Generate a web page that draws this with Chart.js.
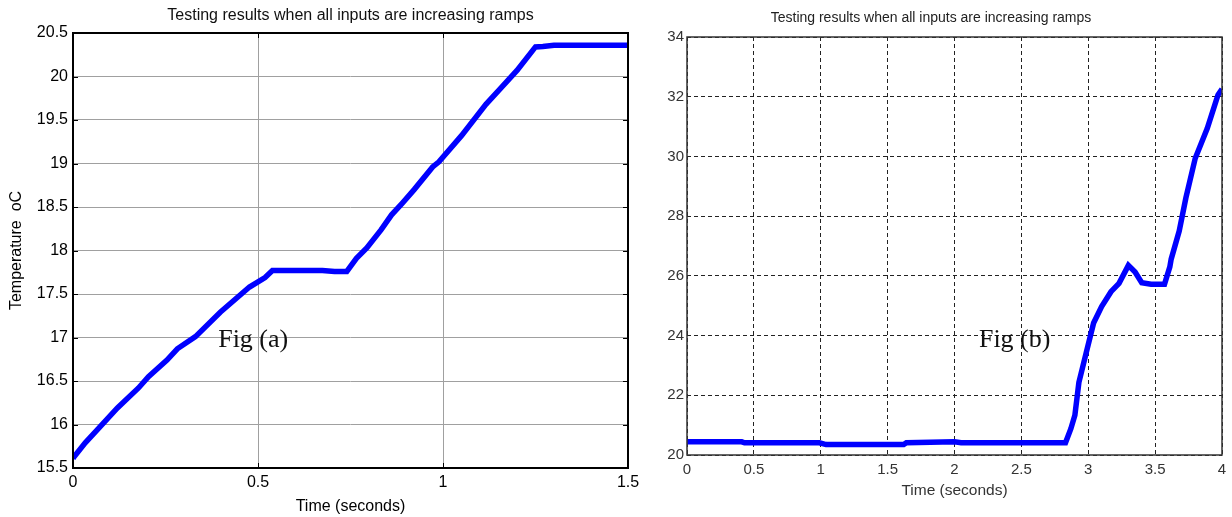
<!DOCTYPE html>
<html>
<head>
<meta charset="utf-8">
<script src="https://cdn.jsdelivr.net/npm/chart.js@4.4.1/dist/chart.umd.min.js"></script>
<style>
  html, body { margin: 0; padding: 0; background: #fff; }
  #wrap { position: relative; width: 1232px; height: 517px; overflow: hidden; }
  #boxA { position: absolute; left: 0; top: 0; width: 640px; height: 517px; }
  #boxB { position: absolute; left: 640px; top: 0; width: 592px; height: 517px; }
</style>
</head>
<body>
<div id="wrap">
  <div id="boxA"><canvas id="chartA" width="640" height="517"></canvas></div>
  <div id="boxB"><canvas id="chartB" width="592" height="517"></canvas></div>
</div>
<script>
// ---- Data ----
const titleText = "Testing results when all inputs are increasing ramps";

// Fig (a)
const timeA = [0, 0.003, 0.033, 0.066, 0.12, 0.177, 0.204, 0.254, 0.282, 0.331, 0.398, 0.477, 0.519, 0.539,
               0.674, 0.707, 0.74, 0.766, 0.794, 0.833, 0.861, 0.889, 0.922, 0.972, 0.989, 1.05, 1.116,
               1.155, 1.2, 1.25, 1.27, 1.30, 1.5];
const tempA = [15.61, 15.63, 15.79, 15.94, 16.19, 16.42, 16.55, 16.74, 16.87, 17.01, 17.29, 17.58, 17.69, 17.77,
               17.77, 17.76, 17.76, 17.91, 18.03, 18.24, 18.41, 18.54, 18.70, 18.96, 19.02, 19.32, 19.68,
               19.86, 20.07, 20.34, 20.345, 20.36, 20.36];
const xTicksA = [0, 0.5, 1, 1.5];
const yRangeA = [15.5, 20.5];
const yStepA = 0.5;

// Fig (b)
const timeB = [0, 0.41, 0.43, 0.99, 1.04, 1.62, 1.64, 2.0, 2.05, 2.83, 2.87, 2.9, 2.93, 2.985, 3.04, 3.1,
               3.17, 3.23, 3.3, 3.35, 3.4, 3.47, 3.57, 3.61, 3.62, 3.68, 3.73, 3.8, 3.89, 3.97, 4.0];
const tempB = [20.44, 20.44, 20.41, 20.41, 20.35, 20.35, 20.41, 20.44, 20.41, 20.41, 20.88, 21.33, 22.43, 23.43,
               24.42, 24.97, 25.47, 25.75, 26.35, 26.13, 25.77, 25.72, 25.72, 26.3, 26.56, 27.5, 28.61, 29.94,
               30.94, 32.06, 32.26];
const xRangeB = [0, 4];
const xStepB = 0.5;
const yRangeB = [20, 34];
const yStepB = 2;

const labelA = "Fig (a)";
const labelB = "Fig (b)";
const labelPosA = [0.487, 16.97];
const labelPosB = [2.45, 23.83];

// ---- helpers ----
function toPoints(xs, ys) { return xs.map((x, i) => ({ x: x, y: ys[i] })); }
function fmt(v) { return String(Number(Number(v).toFixed(3))); }
function noScalePad(scale) { scale.paddingLeft = 0; scale.paddingRight = 0; scale.paddingTop = 0; scale.paddingBottom = 0; }

function framePlugin(color, width) {
  return {
    id: 'frame',
    afterDatasetsDraw(chart) {
      const a = chart.chartArea, ctx = chart.ctx;
      ctx.save();
      ctx.strokeStyle = color;
      ctx.lineWidth = width;
      ctx.strokeRect(a.left, a.top, a.right - a.left, a.bottom - a.top);
      ctx.restore();
    }
  };
}

function figLabelPlugin(text, pos, font) {
  return {
    id: 'figlabel',
    afterDatasetsDraw(chart) {
      const ctx = chart.ctx;
      const px = chart.scales.x.getPixelForValue(pos[0]);
      const py = chart.scales.y.getPixelForValue(pos[1]);
      ctx.save();
      ctx.font = font;
      ctx.fillStyle = '#111';
      ctx.textAlign = 'center';
      ctx.textBaseline = 'middle';
      ctx.fillText(text, px, py);
      ctx.restore();
    }
  };
}

// inward tick marks (MATLAB style) for chart A
const innerTicksA = {
  id: 'innerTicks',
  afterDatasetsDraw(chart) {
    const a = chart.chartArea, ctx = chart.ctx;
    const xs = chart.scales.x, ys = chart.scales.y;
    ctx.save();
    ctx.strokeStyle = '#000';
    ctx.lineWidth = 1;
    xs.ticks.forEach(t => {
      const p = Math.round(xs.getPixelForValue(t.value)) + 0.5;
      ctx.beginPath(); ctx.moveTo(p, a.bottom); ctx.lineTo(p, a.bottom - 5); ctx.stroke();
      ctx.beginPath(); ctx.moveTo(p, a.top); ctx.lineTo(p, a.top + 5); ctx.stroke();
    });
    ys.ticks.forEach(t => {
      const p = Math.round(ys.getPixelForValue(t.value)) + 0.5;
      ctx.beginPath(); ctx.moveTo(a.left, p); ctx.lineTo(a.left + 5, p); ctx.stroke();
      ctx.beginPath(); ctx.moveTo(a.right, p); ctx.lineTo(a.right - 5, p); ctx.stroke();
    });
    ctx.restore();
  }
};

const SANS = 'Liberation Sans, Arial, sans-serif';

// ---- Chart A ----
new Chart(document.getElementById('chartA'), {
  type: 'line',
  data: {
    datasets: [{
      data: toPoints(timeA, tempA),
      borderColor: '#0000ff',
      borderWidth: 5.5,
      pointRadius: 0,
      tension: 0,
      fill: false
    }]
  },
  options: {
    responsive: false,
    animation: false,
    events: [],
    layout: { padding: { left: 0, right: 12, top: 0, bottom: 0 } },
    plugins: {
      legend: { display: false },
      tooltip: { enabled: false },
      title: {
        display: true,
        fullSize: false,
        text: titleText,
        color: '#111',
        font: { family: SANS, size: 16, weight: 'normal', lineHeight: 1.2 },
        padding: { top: 6, bottom: 7.8 }
      }
    },
    scales: {
      x: {
        type: 'linear',
        min: xTicksA[0],
        max: xTicksA[xTicksA.length - 1],
        afterBuildTicks(scale) { scale.ticks = xTicksA.map(v => ({ value: v })); },
        afterFit(scale) { scale.height = 49; noScalePad(scale); },
        grid: { color: '#a0a0a0', lineWidth: 1, drawTicks: false },
        border: { display: false },
        ticks: {
          color: '#000',
          padding: 5,
          maxRotation: 0,
          callback: fmt,
          font: { family: SANS, size: 16 }
        },
        title: {
          display: true,
          text: 'Time (seconds)',
          color: '#000',
          font: { family: SANS, size: 16, lineHeight: 1.2 },
          padding: { top: 0, bottom: 0.5 }
        }
      },
      y: {
        type: 'linear',
        min: yRangeA[0],
        max: yRangeA[1],
        ticks: {
          stepSize: yStepA,
          color: '#000',
          padding: 5,
          callback: fmt,
          font: { family: SANS, size: 16 }
        },
        afterFit(scale) { scale.width = 73; noScalePad(scale); },
        grid: { color: '#a0a0a0', lineWidth: 1, drawTicks: false },
        border: { display: false },
        title: {
          display: true,
          text: 'Temperature  oC',
          color: '#000',
          font: { family: SANS, size: 16, lineHeight: 1.2 },
          padding: { top: 7.4, bottom: 0 }
        }
      }
    }
  },
  plugins: [framePlugin('#000', 2), innerTicksA, figLabelPlugin(labelA, labelPosA, '26px "Liberation Serif", "DejaVu Serif", serif')]
});

// ---- Chart B ----
new Chart(document.getElementById('chartB'), {
  type: 'line',
  data: {
    datasets: [{
      data: toPoints(timeB, tempB),
      borderColor: '#0000ff',
      borderWidth: 5.5,
      pointRadius: 0,
      tension: 0,
      fill: false
    }]
  },
  options: {
    responsive: false,
    animation: false,
    events: [],
    layout: { padding: { left: 0, right: 10, top: 0, bottom: 0 } },
    plugins: {
      legend: { display: false },
      tooltip: { enabled: false },
      title: {
        display: true,
        text: titleText,
        color: '#222',
        font: { family: SANS, size: 14, weight: 'normal', lineHeight: 1.2 },
        padding: { top: 10, bottom: 10.2 }
      }
    },
    scales: {
      x: {
        type: 'linear',
        min: xRangeB[0],
        max: xRangeB[1],
        ticks: {
          stepSize: xStepB,
          color: '#333',
          padding: 6,
          maxRotation: 0,
          callback: fmt,
          font: { family: SANS, size: 15 }
        },
        afterFit(scale) { scale.height = 62; noScalePad(scale); },
        grid: { color: '#222', lineWidth: 1, drawTicks: false },
        border: { display: false, dash: [4, 3] },
        title: {
          display: true,
          text: 'Time (seconds)',
          color: '#333',
          font: { family: SANS, size: 15.5, lineHeight: 1.2 },
          padding: { top: 0, bottom: 16.7 }
        }
      },
      y: {
        type: 'linear',
        min: yRangeB[0],
        max: yRangeB[1],
        ticks: {
          stepSize: yStepB,
          color: '#333',
          padding: 3,
          callback: fmt,
          font: { family: SANS, size: 15 }
        },
        afterFit(scale) { scale.width = 47; noScalePad(scale); },
        grid: { color: '#222', lineWidth: 1, drawTicks: false },
        border: { display: false, dash: [4, 3] }
      }
    }
  },
  plugins: [framePlugin('#333', 1.5), figLabelPlugin(labelB, labelPosB, '26px "Liberation Serif", "DejaVu Serif", serif')]
});
</script>
</body>
</html>
